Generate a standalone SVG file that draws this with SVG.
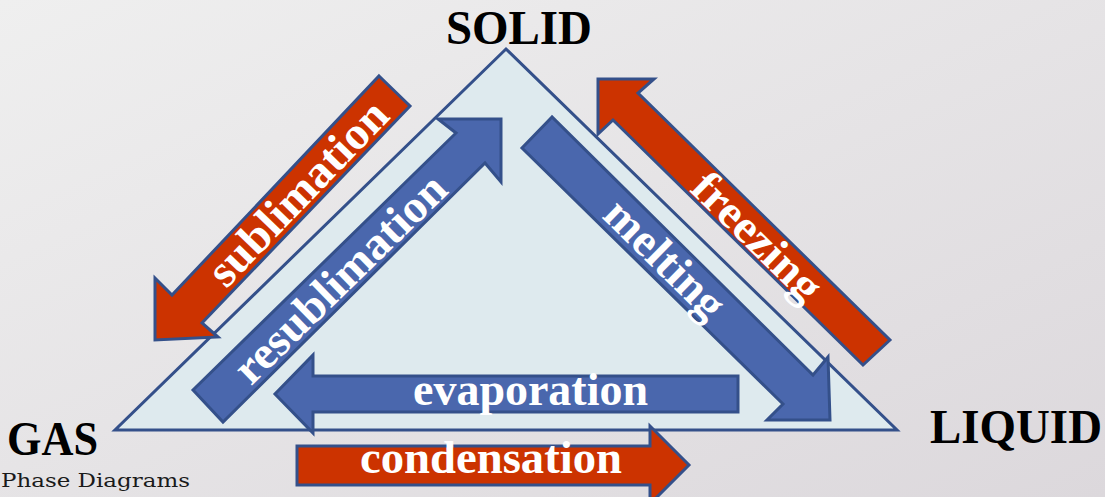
<svg xmlns="http://www.w3.org/2000/svg" width="1105" height="497" viewBox="0 0 1105 497">
  <defs>
    <linearGradient id="bg" x1="0" y1="0" x2="1" y2="1">
      <stop offset="0" stop-color="#efefef"/>
      <stop offset="1" stop-color="#dcd8dc"/>
    </linearGradient>
    <style>
      .red { fill: #cc3300; stroke: #34508a; stroke-width: 3; stroke-linejoin: miter; }
      .blue { fill: #4a67ad; stroke: #34508a; stroke-width: 3; stroke-linejoin: miter; }
      .lbl { font-family: "Liberation Serif", "Times New Roman", serif; font-weight: bold; font-size: 46px; fill: #ffffff; text-anchor: middle; }
      .title { font-family: "Liberation Serif", "Times New Roman", serif; font-weight: bold; font-size: 48px; fill: #000000; }
      .sub { font-family: "DejaVu Serif", serif; font-size: 19px; fill: #1a1a1a; }
    </style>
  </defs>
  <rect width="1105" height="497" fill="url(#bg)"/>

  <g id="triangle">
    <polygon points="506,49 115,430 897,430" fill="#deeaee" stroke="#34508a" stroke-width="3" stroke-linejoin="miter"/>
  </g>

  <g id="connectors">
    <g id="sublimation">
      <polygon class="red" points="379,76 410,106 202,323 218,337 155,340 155,278 172,295"/>
      <text class="lbl" transform="translate(298,193) rotate(-46.1)" x="0" y="15" textLength="238" lengthAdjust="spacingAndGlyphs">sublimation</text>
    </g>
    <g id="resublimation">
      <polygon class="blue" points="193,390 223,422 485,163 501,182 501,119 438,119 456,133"/>
      <text class="lbl" transform="translate(340,278.5) rotate(-44.35)" x="0" y="15" textLength="278" lengthAdjust="spacingAndGlyphs">resublimation</text>
    </g>
    <g id="melting">
      <polygon class="blue" points="552,117 522,148 783,404 767,420 830,420 828,357 813,375"/>
      <text class="lbl" transform="translate(665,259) rotate(44.55)" x="0" y="15" textLength="150" lengthAdjust="spacingAndGlyphs">melting</text>
    </g>
    <g id="freezing">
      <polygon class="red" points="890,340 863,365 613,120 598,134 598,79 654,79 638,93"/>
      <text class="lbl" transform="translate(756.5,237.5) rotate(44.5)" x="0" y="14" textLength="163" lengthAdjust="spacingAndGlyphs">freezing</text>
    </g>
    <g id="evaporation">
      <polygon class="blue" points="738,376 738,412 313,412 313,433 275,394 313,355 313,376"/>
      <text class="lbl" x="530.5" y="405" textLength="235" lengthAdjust="spacingAndGlyphs">evaporation</text>
    </g>
    <g id="condensation">
      <polygon class="red" points="297,446 650,446 650,426 689,465 650,504 650,485 297,485"/>
      <text class="lbl" x="491" y="473" textLength="262" lengthAdjust="spacingAndGlyphs">condensation</text>
    </g>
  </g>

  <g id="solid">
    <text class="title" x="446" y="44" textLength="146" lengthAdjust="spacingAndGlyphs">SOLID</text>
  </g>
  <g id="gas">
    <text class="title" x="7" y="455" textLength="91" lengthAdjust="spacingAndGlyphs">GAS</text>
  </g>
  <g id="liquid">
    <text class="title" x="930" y="443" textLength="172" lengthAdjust="spacingAndGlyphs">LIQUID</text>
  </g>
  <g id="caption">
    <text class="sub" x="1" y="487" textLength="189" lengthAdjust="spacingAndGlyphs">Phase Diagrams</text>
  </g>
</svg>
